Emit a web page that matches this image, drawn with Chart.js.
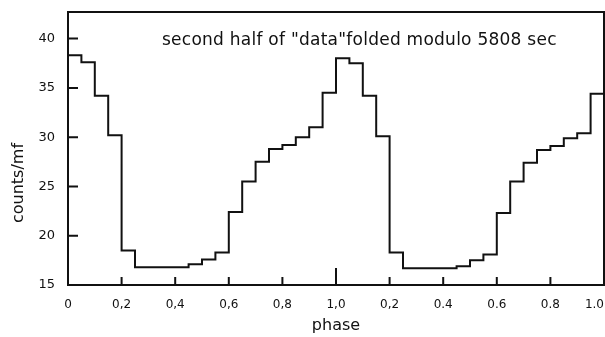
<!DOCTYPE html>
<html>
<head>
<meta charset="utf-8">
<script src="https://cdn.jsdelivr.net/npm/chart.js@4"></script>
<style>
    html, body { margin: 0; padding: 0; background: #fff; }
    canvas { display: block; }
</style>
</head>
<body>
<canvas id="phaseChart" width="605" height="337"></canvas>
<script>
// phase bins are 0.05 wide, two cycles shown (0..2)
const binWidth = 0.05;
const counts = [
    38.3, 37.6, 34.2, 30.2, 18.5, 16.8, 16.8, 16.8, 16.8, 17.1,
    17.6, 18.3, 22.4, 25.5, 27.5, 28.8, 29.2, 30.0, 31.0, 34.5,
    38.0, 37.5, 34.2, 30.1, 18.3, 16.7, 16.7, 16.7, 16.7, 16.9,
    17.5, 18.1, 22.3, 25.5, 27.4, 28.7, 29.1, 29.9, 30.4, 34.4
];
const xTickValues = [0, 0.2, 0.4, 0.6, 0.8, 1.0, 1.2, 1.4, 1.6, 1.8, 2.0];
const xTickLabels = ['0', '0,2', '0,4', '0,6', '0,8', '1,0', '0,2', '0.4', '0.6', '0.8', '1.0'];
const yTickValues = [15, 20, 25, 30, 35, 40];
const chartTitle = 'second half of "data"folded modulo 5808 sec';
const yTitle = 'counts/mf';

// step points: each bin starts at its left edge, last point closes the final bin
const points = counts.map((v, i) => ({ x: i * binWidth, y: v }));
points.push({ x: counts.length * binWidth, y: counts[counts.length - 1] });

const ink = '#111';
const fontFamily = '"DejaVu Sans", sans-serif';

// frame, inward tick marks, x tick labels, y title and the title inside the plot
const framePlugin = {
    id: 'frame',
    afterDraw(chart) {
        const ctx = chart.ctx;
        const area = chart.chartArea;
        const xs = chart.scales.x;
        const ys = chart.scales.y;
        ctx.save();
        ctx.strokeStyle = ink;
        ctx.lineWidth = 2;
        ctx.beginPath();
        ctx.moveTo(area.left, area.top);
        ctx.lineTo(area.right, area.top);
        ctx.lineTo(area.right, area.bottom);
        yTickValues.forEach(v => {
            if (v === ys.min) return;
            const y = ys.getPixelForValue(v);
            ctx.moveTo(area.left, y);
            ctx.lineTo(area.left + 10, y);
        });
        xTickValues.forEach(v => {
            if (v === xs.min || v === xs.max) return;
            const x = xs.getPixelForValue(v);
            ctx.moveTo(x, area.bottom);
            ctx.lineTo(x, area.bottom - (v === 1 ? 17 : 8));
        });
        ctx.stroke();

        // x tick labels, kept inside the canvas at the right edge
        ctx.fillStyle = ink;
        ctx.font = '12px ' + fontFamily;
        ctx.textAlign = 'center';
        ctx.textBaseline = 'middle';
        xTickValues.forEach((v, i) => {
            const label = xTickLabels[i];
            const half = ctx.measureText(label).width / 2;
            const x = Math.min(xs.getPixelForValue(v), chart.width - half - 1);
            ctx.fillText(label, x, area.bottom + 20);
        });

        ctx.font = '17px ' + fontFamily;
        ctx.textAlign = 'left';
        ctx.textBaseline = 'alphabetic';
        ctx.letterSpacing = '0.25px';
        ctx.fillText(chartTitle, area.left + 94, area.top + 33);

        ctx.letterSpacing = '0px';
        ctx.font = '16px ' + fontFamily;
        ctx.textAlign = 'center';
        ctx.textBaseline = 'middle';
        ctx.translate(19, area.top + 171);
        ctx.rotate(-Math.PI / 2);
        ctx.fillText(yTitle, 0, 0);
        ctx.restore();
    }
};

const ctx = document.getElementById('phaseChart').getContext('2d');
const phaseChart = new Chart(ctx, {
    type: 'line',
    data: {
        datasets: [{
            data: points,
            borderColor: ink,
            borderWidth: 2,
            pointRadius: 0,
            stepped: true,
            fill: false
        }]
    },
    options: {
        responsive: false,
        animation: false,
        layout: {
            padding: { left: 0, right: 1, top: 12, bottom: 0 }
        },
        plugins: {
            legend: { display: false },
            tooltip: { enabled: false }
        },
        scales: {
            x: {
                type: 'linear',
                min: 0,
                max: 2,
                afterBuildTicks: scale => {
                    scale.ticks = xTickValues.map(v => ({ value: v }));
                },
                afterFit: scale => {
                    scale.height = 52;
                    scale.paddingLeft = 0;
                    scale.paddingRight = 0;
                },
                grid: { display: false, drawTicks: false },
                border: { display: true, color: ink, width: 2 },
                ticks: { display: false },
                title: {
                    display: true,
                    text: 'phase',
                    color: ink,
                    font: { family: fontFamily, size: 16 },
                    padding: { top: 0, bottom: 2 }
                }
            },
            y: {
                min: 15,
                max: 42.7,
                afterBuildTicks: scale => {
                    scale.ticks = yTickValues.map(v => ({ value: v }));
                },
                afterFit: scale => {
                    scale.width = 68;
                    scale.paddingTop = 0;
                    scale.paddingBottom = 0;
                },
                grid: { display: false, drawTicks: false },
                border: { display: true, color: ink, width: 2 },
                ticks: {
                    color: ink,
                    padding: 13,
                    font: { family: fontFamily, size: 13 }
                },
                title: { display: false }
            }
        }
    },
    plugins: [framePlugin]
});
</script>
</body>
</html>
